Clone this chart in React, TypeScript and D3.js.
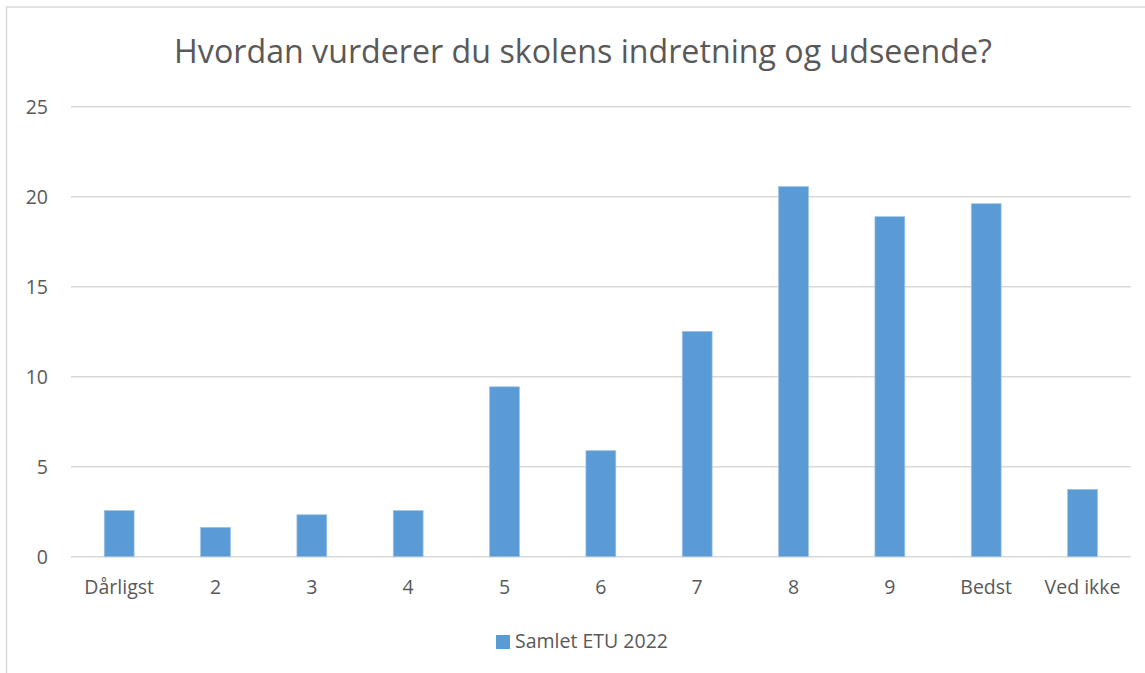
import { useEffect, useRef } from "react";
import * as d3 from "d3";

const categories = ["Dårligst", "2", "3", "4", "5", "6", "7", "8", "9", "Bedst", "Ved ikke"];
const values = [2.56, 1.63, 2.33, 2.56, 9.44, 5.89, 12.52, 20.56, 18.89, 19.61, 3.74];
const yTicks = [0, 5, 10, 15, 20, 25];
const seriesName = "Samlet ETU 2022";
const title = "Hvordan vurderer du skolens indretning og udseende?";

const WIDTH = 1145;
const HEIGHT = 673;
const FONT = "'Open Sans', 'DejaVu Sans', sans-serif";
const LABEL_SIZE = 19.5;

const App = () => {
    const ref: any = useRef<SVGSVGElement>(null);

    useEffect(() => {
        const svg = d3.select(ref.current);
        svg.selectAll("*").remove();

        // chart frame
        svg.append("rect")
            .attr("x", 6.5).attr("y", 7)
            .attr("width", 1160).attr("height", 700)
            .attr("fill", "#fff")
            .attr("stroke", "#d9d9d9")
            .attr("stroke-width", 1.5);

        svg.append("text")
            .attr("x", 583).attr("y", 63)
            .attr("text-anchor", "middle")
            .attr("font-family", FONT)
            .attr("font-size", 32.2)
            .attr("fill", "#595959")
            .text(title);

        const x = d3.scaleBand()
            .domain(categories)
            .range([71, 1130.7])
            .paddingInner(0.69)
            .paddingOuter(0.345);

        const y = d3.scaleLinear().domain([0, 25]).range([556.7, 106.7]);

        const grid = svg.append("g");
        grid.selectAll("line")
            .data(yTicks)
            .join("line")
            .attr("x1", 71).attr("x2", 1130.7)
            .attr("y1", d => y(d)).attr("y2", d => y(d))
            .attr("stroke", "#d9d9d9")
            .attr("stroke-width", 1.5);

        grid.selectAll("text")
            .data(yTicks)
            .join("text")
            .attr("x", 48)
            .attr("y", d => y(d) + 7)
            .attr("text-anchor", "end")
            .attr("font-family", FONT)
            .attr("font-size", LABEL_SIZE)
            .attr("fill", "#595959")
            .text(d => d);

        svg.append("g")
            .selectAll("rect")
            .data(values)
            .join("rect")
            .attr("x", (d, i) => x(categories[i]) as number)
            .attr("y", d => y(d))
            .attr("width", x.bandwidth())
            .attr("height", d => y(0) - y(d))
            .attr("fill", "#5b9bd5")
            .attr("stroke", "#9dc3e6")
            .attr("stroke-width", 0.7);

        svg.append("g")
            .selectAll("text")
            .data(categories)
            .join("text")
            .attr("x", d => (x(d) as number) + x.bandwidth() / 2)
            .attr("y", 594)
            .attr("text-anchor", "middle")
            .attr("font-family", FONT)
            .attr("font-size", LABEL_SIZE)
            .attr("fill", "#595959")
            .text(d => d);

        // legend
        const lg = svg.append("g");
        lg.append("rect")
            .attr("x", 496).attr("y", 635)
            .attr("width", 14).attr("height", 14)
            .attr("fill", "#5b9bd5");
        lg.append("text")
            .attr("x", 515).attr("y", 648)
            .attr("font-family", FONT)
            .attr("font-size", LABEL_SIZE)
            .attr("fill", "#595959")
            .text(seriesName);
    }, []);

    return (
        <svg
            ref={ref}
            width={WIDTH}
            height={HEIGHT}
            style={{ position: "absolute", left: 0, top: 0, background: "#fff" }}
        />
    );
};

export default App;
